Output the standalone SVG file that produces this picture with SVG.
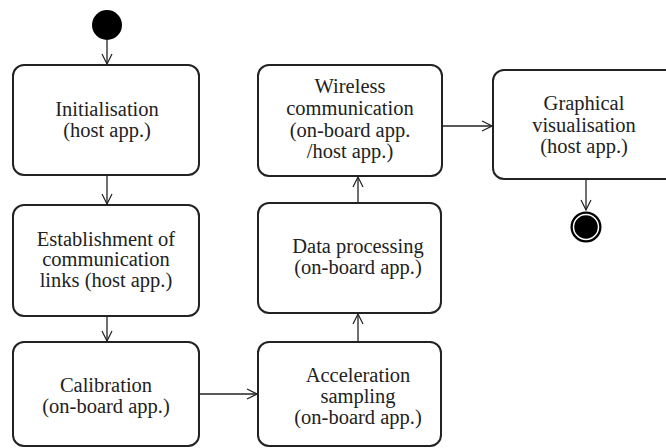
<svg xmlns="http://www.w3.org/2000/svg" width="666" height="448" viewBox="0 0 666 448">
<defs>
<marker id="arr" viewBox="0 0 12 12" refX="11" refY="6" markerWidth="12" markerHeight="12" markerUnits="userSpaceOnUse" orient="auto">
<path d="M1,1 L11,6 L1,11" fill="none" stroke="#222" stroke-width="1.2"/>
</marker>
<style>
.box{fill:#fff;stroke:#222;stroke-width:2}
.t{font-family:'Times New Roman',Times,'Liberation Serif','DejaVu Serif',serif;font-size:20.5px;fill:#222;text-anchor:middle}
.c{fill:none;stroke:#222;stroke-width:1.3;marker-end:url(#arr)}
</style>
</defs>
<rect width="666" height="448" fill="#fff"/>
<g id="connectors">
<line class="c" x1="107" y1="40" x2="107" y2="64"/>
<line class="c" x1="107" y1="175" x2="107" y2="204"/>
<line class="c" x1="107" y1="316" x2="107" y2="341"/>
<line class="c" x1="199" y1="394" x2="257" y2="394"/>
<line class="c" x1="358" y1="342" x2="358" y2="314"/>
<line class="c" x1="358" y1="203" x2="358" y2="177"/>
<line class="c" x1="442" y1="126" x2="492" y2="126"/>
<line class="c" x1="586" y1="179" x2="586" y2="210"/>
</g>
<g id="start"><circle cx="107" cy="25" r="15" fill="#000"/></g>
<g id="init">
<rect class="box" x="13" y="65" width="186" height="110" rx="11"/>
<text class="t" x="107" y="116">Initialisation</text>
<text class="t" x="107" y="137">(host app.)</text>
</g>
<g id="establish">
<rect class="box" x="13" y="205" width="186" height="111" rx="11"/>
<text class="t" x="106" y="246">Establishment of</text>
<text class="t" x="106" y="266">communication</text>
<text class="t" x="106" y="287">links (host app.)</text>
</g>
<g id="calibration">
<rect class="box" x="13" y="342" width="186" height="104" rx="11"/>
<text class="t" x="106" y="392">Calibration</text>
<text class="t" x="106" y="413">(on-board app.)</text>
</g>
<g id="acceleration">
<rect class="box" x="258" y="342" width="183" height="104" rx="11"/>
<text class="t" x="358" y="382">Acceleration</text>
<text class="t" x="358" y="403">sampling</text>
<text class="t" x="358" y="424">(on-board app.)</text>
</g>
<g id="processing">
<rect class="box" x="258" y="203" width="183" height="110" rx="11"/>
<text class="t" x="358" y="253">Data processing</text>
<text class="t" x="358" y="274">(on-board app.)</text>
</g>
<g id="wireless">
<rect class="box" x="258" y="65" width="184" height="111" rx="11"/>
<text class="t" x="350" y="93">Wireless</text>
<text class="t" x="350" y="115">communication</text>
<text class="t" x="350" y="137">(on-board app.</text>
<text class="t" x="350" y="158">/host app.)</text>
</g>
<g id="graphical">
<rect class="box" x="493" y="70" width="190" height="109" rx="11"/>
<text class="t" x="584" y="110">Graphical</text>
<text class="t" x="584" y="132">visualisation</text>
<text class="t" x="584" y="153">(host app.)</text>
</g>
<g id="end">
<circle cx="586" cy="227" r="15.5" fill="#000"/>
<circle cx="586" cy="227" r="12.5" fill="none" stroke="#fff" stroke-width="1.5"/>
</g>
</svg>
